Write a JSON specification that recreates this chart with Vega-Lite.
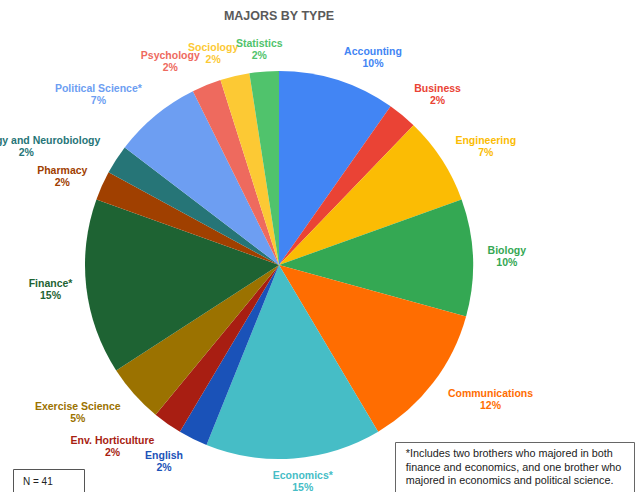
{
  "$schema": "https://vega.github.io/schema/vega-lite/v6.json",
  "width": 558,
  "height": 450,
  "autosize": {"type": "none"},
  "padding": {"left": 0, "top": 40, "right": 81, "bottom": 2},
  "background": "white",
  "title": {"text": "MAJORS BY TYPE", "frame": "group", "anchor": "middle", "font": "Liberation Sans", "fontSize": 12.5, "fontWeight": "bold", "color": "#5a5a5a", "offset": -14},
  "config": {
    "view": {"stroke": null},
    "text": {"font": "Liberation Sans", "fontWeight": "bold", "fontSize": 10.5}
  },
  "layer": [
    {
      "data": {"values": [
        {"major": "Accounting", "count": 4, "pct": "10%", "rank": 1},
        {"major": "Business", "count": 1, "pct": "2%", "rank": 2},
        {"major": "Engineering", "count": 3, "pct": "7%", "rank": 3},
        {"major": "Biology", "count": 4, "pct": "10%", "rank": 4},
        {"major": "Communications", "count": 5, "pct": "12%", "rank": 5},
        {"major": "Economics*", "count": 6, "pct": "15%", "rank": 6},
        {"major": "English", "count": 1, "pct": "2%", "rank": 7},
        {"major": "Env. Horticulture", "count": 1, "pct": "2%", "rank": 8},
        {"major": "Exercise Science", "count": 2, "pct": "5%", "rank": 9},
        {"major": "Finance*", "count": 6, "pct": "15%", "rank": 10},
        {"major": "Pharmacy", "count": 1, "pct": "2%", "rank": 11},
        {"major": "Physiology and Neurobiology", "count": 1, "pct": "2%", "rank": 12},
        {"major": "Political Science*", "count": 3, "pct": "7%", "rank": 13},
        {"major": "Psychology", "count": 1, "pct": "2%", "rank": 14},
        {"major": "Sociology", "count": 1, "pct": "2%", "rank": 15},
        {"major": "Statistics", "count": 1, "pct": "2%", "rank": 16}
      ]},
      "encoding": {
        "theta": {"field": "count", "type": "quantitative", "stack": true},
        "order": {"field": "rank", "type": "quantitative"},
        "color": {
          "field": "major", "type": "nominal", "legend": null,
          "scale": {
            "domain": ["Accounting", "Business", "Engineering", "Biology", "Communications", "Economics*", "English", "Env. Horticulture", "Exercise Science", "Finance*", "Pharmacy", "Physiology and Neurobiology", "Political Science*", "Psychology", "Sociology", "Statistics"],
            "range": ["#4285F4", "#EA4335", "#FBBC04", "#34A853", "#FF6D01", "#46BDC6", "#1A52B8", "#A81E12", "#9B7200", "#1E6333", "#A04000", "#267577", "#6D9EF2", "#EE6A5E", "#FCC934", "#50C36C"]
          }
        }
      },
      "layer": [
        {"mark": {"type": "arc", "outerRadius": 194}},
        {"mark": {"type": "text", "radius": 232, "dx": 24, "dy": 8}, "encoding": {"text": {"condition": {"test": "datum.major === 'Accounting'", "field": "major"}, "value": ""}}},
        {"mark": {"type": "text", "radius": 232, "dx": 24, "dy": 20}, "encoding": {"text": {"condition": {"test": "datum.major === 'Accounting'", "field": "pct"}, "value": ""}}},
        {"mark": {"type": "text", "radius": 232, "dx": 11, "dy": 3}, "encoding": {"text": {"condition": {"test": "datum.major === 'Business'", "field": "major"}, "value": ""}}},
        {"mark": {"type": "text", "radius": 232, "dx": 11, "dy": 15}, "encoding": {"text": {"condition": {"test": "datum.major === 'Business'", "field": "pct"}, "value": ""}}},
        {"mark": {"type": "text", "radius": 232, "dx": 12, "dy": 2}, "encoding": {"text": {"condition": {"test": "datum.major === 'Engineering'", "field": "major"}, "value": ""}}},
        {"mark": {"type": "text", "radius": 232, "dx": 12, "dy": 14}, "encoding": {"text": {"condition": {"test": "datum.major === 'Engineering'", "field": "pct"}, "value": ""}}},
        {"mark": {"type": "text", "radius": 232, "dx": -4, "dy": -5}, "encoding": {"text": {"condition": {"test": "datum.major === 'Biology'", "field": "major"}, "value": ""}}},
        {"mark": {"type": "text", "radius": 232, "dx": -4, "dy": 7}, "encoding": {"text": {"condition": {"test": "datum.major === 'Biology'", "field": "pct"}, "value": ""}}},
        {"mark": {"type": "text", "radius": 232, "dx": 27, "dy": -12}, "encoding": {"text": {"condition": {"test": "datum.major === 'Communications'", "field": "major"}, "value": ""}}},
        {"mark": {"type": "text", "radius": 232, "dx": 27, "dy": 0}, "encoding": {"text": {"condition": {"test": "datum.major === 'Communications'", "field": "pct"}, "value": ""}}},
        {"mark": {"type": "text", "radius": 232, "dx": 6, "dy": -20}, "encoding": {"text": {"condition": {"test": "datum.major === 'Economics*'", "field": "major"}, "value": ""}}},
        {"mark": {"type": "text", "radius": 232, "dx": 6, "dy": -8}, "encoding": {"text": {"condition": {"test": "datum.major === 'Economics*'", "field": "pct"}, "value": ""}}},
        {"mark": {"type": "text", "radius": 232, "dx": -12, "dy": -17}, "encoding": {"text": {"condition": {"test": "datum.major === 'English'", "field": "major"}, "value": ""}}},
        {"mark": {"type": "text", "radius": 232, "dx": -12, "dy": -5}, "encoding": {"text": {"condition": {"test": "datum.major === 'English'", "field": "pct"}, "value": ""}}},
        {"mark": {"type": "text", "radius": 232, "dx": -33, "dy": -14}, "encoding": {"text": {"condition": {"test": "datum.major === 'Env. Horticulture'", "field": "major"}, "value": ""}}},
        {"mark": {"type": "text", "radius": 232, "dx": -33, "dy": -2}, "encoding": {"text": {"condition": {"test": "datum.major === 'Env. Horticulture'", "field": "pct"}, "value": ""}}},
        {"mark": {"type": "text", "radius": 232, "dx": -28, "dy": -12}, "encoding": {"text": {"condition": {"test": "datum.major === 'Exercise Science'", "field": "major"}, "value": ""}}},
        {"mark": {"type": "text", "radius": 232, "dx": -28, "dy": 0}, "encoding": {"text": {"condition": {"test": "datum.major === 'Exercise Science'", "field": "pct"}, "value": ""}}},
        {"mark": {"type": "text", "radius": 232, "dx": 2, "dy": -8}, "encoding": {"text": {"condition": {"test": "datum.major === 'Finance*'", "field": "major"}, "value": ""}}},
        {"mark": {"type": "text", "radius": 232, "dx": 2, "dy": 4}, "encoding": {"text": {"condition": {"test": "datum.major === 'Finance*'", "field": "pct"}, "value": ""}}},
        {"mark": {"type": "text", "radius": 232, "dx": -5, "dy": 1}, "encoding": {"text": {"condition": {"test": "datum.major === 'Pharmacy'", "field": "major"}, "value": ""}}},
        {"mark": {"type": "text", "radius": 232, "dx": -5, "dy": 13}, "encoding": {"text": {"condition": {"test": "datum.major === 'Pharmacy'", "field": "pct"}, "value": ""}}},
        {"mark": {"type": "text", "radius": 232, "dx": -58, "dy": 2}, "encoding": {"text": {"condition": {"test": "datum.major === 'Physiology and Neurobiology'", "field": "major"}, "value": ""}}},
        {"mark": {"type": "text", "radius": 232, "dx": -58, "dy": 14}, "encoding": {"text": {"condition": {"test": "datum.major === 'Physiology and Neurobiology'", "field": "pct"}, "value": ""}}},
        {"mark": {"type": "text", "radius": 232, "dx": -33, "dy": 3}, "encoding": {"text": {"condition": {"test": "datum.major === 'Political Science*'", "field": "major"}, "value": ""}}},
        {"mark": {"type": "text", "radius": 232, "dx": -33, "dy": 15}, "encoding": {"text": {"condition": {"test": "datum.major === 'Political Science*'", "field": "pct"}, "value": ""}}},
        {"mark": {"type": "text", "radius": 232, "dx": -22, "dy": 6}, "encoding": {"text": {"condition": {"test": "datum.major === 'Psychology'", "field": "major"}, "value": ""}}},
        {"mark": {"type": "text", "radius": 232, "dx": -22, "dy": 18}, "encoding": {"text": {"condition": {"test": "datum.major === 'Psychology'", "field": "pct"}, "value": ""}}},
        {"mark": {"type": "text", "radius": 232, "dx": -13, "dy": 9}, "encoding": {"text": {"condition": {"test": "datum.major === 'Sociology'", "field": "major"}, "value": ""}}},
        {"mark": {"type": "text", "radius": 232, "dx": -13, "dy": 21}, "encoding": {"text": {"condition": {"test": "datum.major === 'Sociology'", "field": "pct"}, "value": ""}}},
        {"mark": {"type": "text", "radius": 232, "dx": -2, "dy": 10}, "encoding": {"text": {"condition": {"test": "datum.major === 'Statistics'", "field": "major"}, "value": ""}}},
        {"mark": {"type": "text", "radius": 232, "dx": -2, "dy": 22}, "encoding": {"text": {"condition": {"test": "datum.major === 'Statistics'", "field": "pct"}, "value": ""}}}
      ]
    },
    {
      "data": {"values": [
        {"note": "*Includes two brothers who majored in both"},
        {"note": "finance and economics, and one brother who"},
        {"note": "majored in economics and political science."}
      ]},
      "mark": {"type": "point", "opacity": 0, "size": 0},
      "encoding": {
        "shape": {
          "field": "note", "type": "nominal", "sort": null,
          "legend": {"orient": "none", "legendX": 395, "legendY": 402, "title": "\u00a0", "titleOrient": "right", "titlePadding": 6, "titleFontSize": 10, "strokeColor": "#666666", "fillColor": "white", "padding": 7, "labelFont": "Liberation Sans", "labelFontSize": 10.8, "labelColor": "#222222", "labelLimit": 400, "symbolSize": 0, "symbolOpacity": 0, "symbolStrokeWidth": 0, "labelOffset": -7, "rowPadding": 1.4}
        }
      }
    },
    {
      "data": {"values": [{"n": "N = 41"}]},
      "mark": {"type": "point", "opacity": 0, "size": 0},
      "encoding": {
        "strokeDash": {
          "field": "n", "type": "nominal",
          "legend": {"orient": "none", "legendX": 13, "legendY": 429, "title": "\u00a0", "titleOrient": "right", "titlePadding": 23, "titleFontSize": 10, "strokeColor": "#555555", "fillColor": "white", "padding": 8, "labelFont": "Liberation Sans", "labelFontSize": 10, "labelColor": "#222222", "symbolSize": 0, "symbolOpacity": 0, "symbolStrokeWidth": 0, "labelOffset": -8}
        }
      }
    }
  ]
}
